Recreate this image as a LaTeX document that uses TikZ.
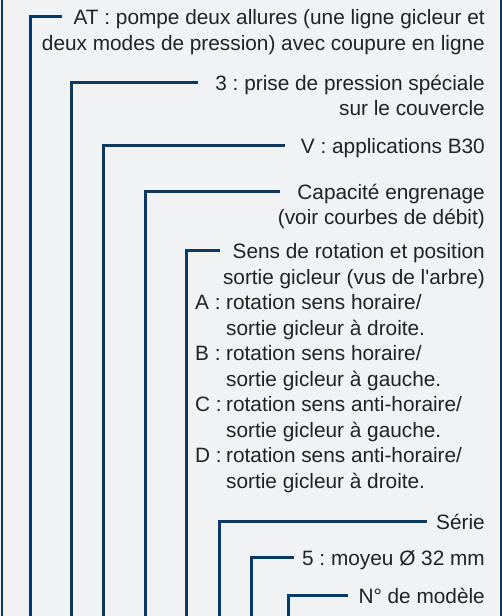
\documentclass[tikz,border=0pt]{standalone}
\usepackage{fontspec}
\setmainfont{Liberation Sans}
\definecolor{bgc}{RGB}{241,242,244}
\definecolor{navy}{RGB}{10,57,101}
\definecolor{txt}{RGB}{34,34,34}
\frenchspacing
\begin{document}
\frenchspacing
\begin{tikzpicture}[x=1pt,y=-1pt,
  lab/.style={anchor=base east, inner sep=0pt, text height=16pt, text depth=0pt, text=txt, font=\fontsize{20.8}{25.5}\selectfont\frenchspacing},
  itm/.style={anchor=base west, inner sep=0pt, text height=16pt, text depth=0pt, text=txt, font=\fontsize{20.8}{25.5}\selectfont\frenchspacing},
  conn/.style={draw=navy, line width=3pt, line join=miter},
  frame/.style={draw=navy, line width=2pt}]
\useasboundingbox (0,0) rectangle (502,616);
\fill[bgc] (0,0) rectangle (502,616);
\draw[frame] (1.5,0) -- (1.5,616);
\draw[frame] (500.5,0) -- (500.5,616);

% bottom ends of connectors
\coordinate (b1) at (30,616);
\coordinate (b2) at (71,616);
\coordinate (b3) at (103,616);
\coordinate (b4) at (145,616);
\coordinate (b5) at (186,616);
\coordinate (b6) at (219,616);
\coordinate (b7) at (251,616);
\coordinate (b8) at (288,616);

% labels
\node[lab] (n1) at (485,24.5) {AT : pompe deux allures (une ligne gicleur et};
\node[lab] (n1b) at (485,50.5) {deux modes de pression) avec coupure en ligne};
\node[lab] (n2) at (485,90.5) {3 : prise de pression spéciale};
\node[lab] (n2b) at (485,115.5) {sur le couvercle};
\node[lab] (n3) at (485,153.5) {V : applications B30};
\node[lab] (n4) at (485,199) {Capacité engrenage};
\node[lab] (n4b) at (485,224.5) {(voir courbes de débit)};
\node[lab] (n5) at (485,258.5) {Sens de rotation et position};
\node[lab] (n5b) at (485,284) {sortie gicleur (vus de l\textquotesingle arbre)};

\node[itm] (la) at (195,309.5) {A :};
\node[itm] (ta) at (226,309.5) {rotation sens horaire/};
\node[itm] (ta2) at (226,335) {sortie gicleur à droite.};
\node[itm] (lb) at (195,360.5) {B :};
\node[itm] (tb) at (226,360.5) {rotation sens horaire/};
\node[itm] (tb2) at (226,386) {sortie gicleur à gauche.};
\node[itm] (lc) at (195,411.5) {C :};
\node[itm] (tc) at (226,411.5) {rotation sens anti-horaire/};
\node[itm] (tc2) at (226,437) {sortie gicleur à gauche.};
\node[itm] (ld) at (195,462.5) {D :};
\node[itm] (td) at (226,462.5) {rotation sens anti-horaire/};
\node[itm] (td2) at (226,488) {sortie gicleur à droite.};

\node[lab] (n6) at (485,529) {Série};
\node[lab] (n7) at (485,565.5) {5 : moyeu Ø 32 mm};
\node[lab] (n8) at (485,603) {N° de modèle};

% connectors
\draw[conn] ([xshift=-11pt]n1.west) -| (b1);
\draw[conn] ([xshift=-17pt]n2.west) -| (b2);
\draw[conn] ([xshift=-16pt]n3.west) -| (b3);
\draw[conn] ([xshift=-17pt]n4.west) -| (b4);
\draw[conn] ([xshift=-13pt]n5.west) -| (b5);
\draw[conn] ([xshift=-9pt]n6.west) -| (b6);
\draw[conn] ([xshift=-8pt]n7.west) -| (b7);
\draw[conn] ([xshift=-10pt]n8.west) -| (b8);
\end{tikzpicture}
\end{document}
